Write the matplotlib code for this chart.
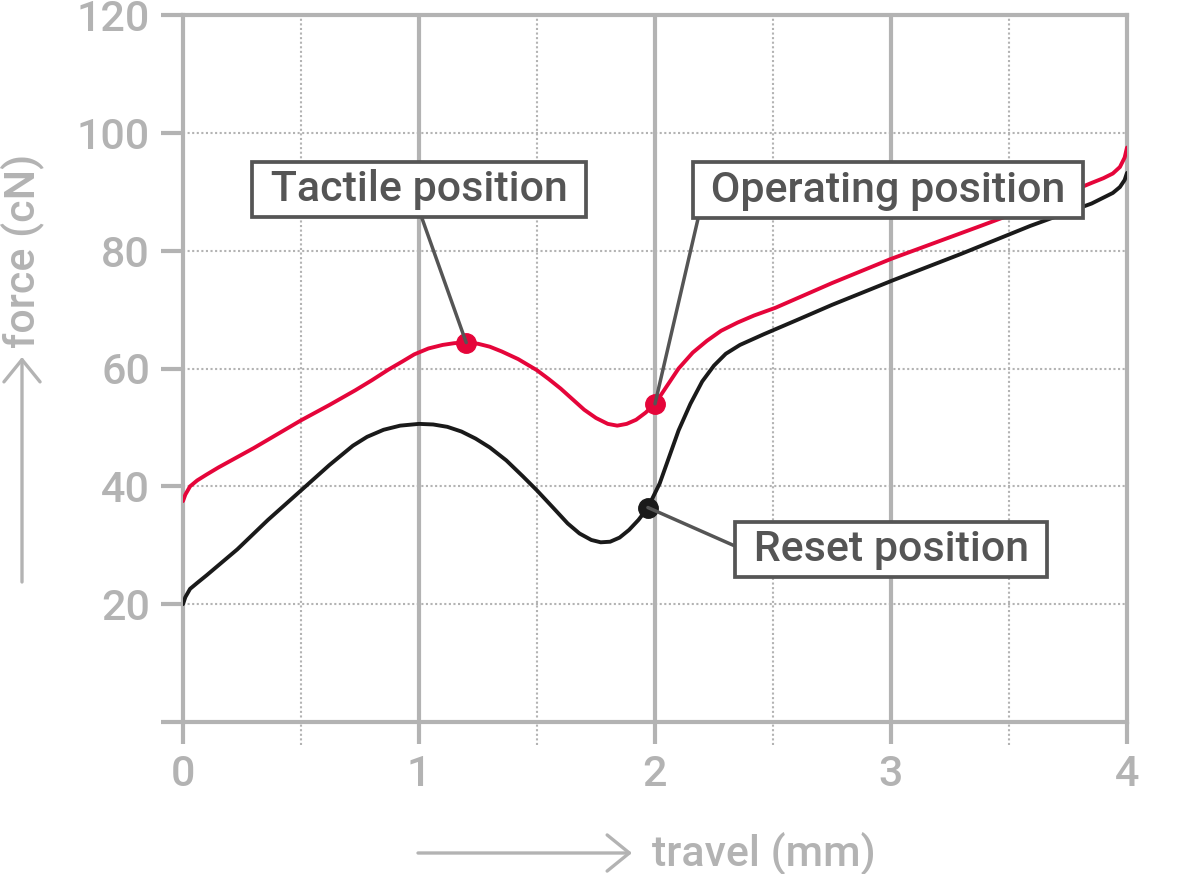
import matplotlib
matplotlib.use('Agg')
import matplotlib.pyplot as plt

# ---- data ----
travel_red = [0.0, 0.01, 0.03, 0.06, 0.1, 0.15, 0.3, 0.5, 0.62, 0.73, 0.8, 0.87, 0.93, 0.98,
              1.04, 1.1, 1.15, 1.2, 1.25, 1.3, 1.35, 1.42, 1.5, 1.55, 1.6, 1.65, 1.7, 1.75,
              1.8, 1.84, 1.88, 1.92, 1.96, 2.0, 2.05, 2.1, 2.16, 2.22, 2.28, 2.35, 2.42,
              2.51, 2.75, 3.0, 3.38, 3.7, 3.85, 3.9, 3.94, 3.97, 3.99, 4.0]
force_red = [37.5, 38.6, 40.0, 41.0, 42.0, 43.2, 46.5, 51.2, 53.8, 56.3, 58.0, 59.8, 61.2, 62.4,
             63.4, 64.0, 64.3, 64.4, 64.2, 63.7, 62.9, 61.6, 59.7, 58.2, 56.6, 54.8, 53.0, 51.6,
             50.6, 50.3, 50.6, 51.3, 52.5, 54.0, 57.0, 60.0, 62.7, 64.7, 66.4, 67.8, 69.0,
             70.3, 74.5, 78.6, 84.2, 89.0, 91.5, 92.3, 93.1, 94.2, 95.8, 97.5]

travel_black = [0.0, 0.01, 0.03, 0.06, 0.1, 0.23, 0.36, 0.5, 0.62, 0.72, 0.78, 0.85, 0.92, 1.0,
                1.06, 1.12, 1.18, 1.24, 1.3, 1.37, 1.44, 1.5, 1.57, 1.63, 1.68, 1.73, 1.77,
                1.81, 1.85, 1.89, 1.93, 1.97, 2.02, 2.06, 2.1, 2.15, 2.2, 2.25, 2.3, 2.36,
                2.46, 2.6, 2.75, 3.01, 3.3, 3.59, 3.85, 3.9, 3.94, 3.97, 3.99, 4.0]
force_black = [20.0, 21.2, 22.6, 23.6, 24.9, 29.3, 34.3, 39.3, 43.6, 46.9, 48.4, 49.6, 50.3,
               50.6, 50.5, 50.1, 49.3, 48.1, 46.6, 44.4, 41.7, 39.3, 36.3, 33.7, 32.0, 30.9,
               30.5, 30.6, 31.3, 32.6, 34.3, 36.4, 40.5, 45.0, 49.5, 54.0, 57.8, 60.5, 62.5,
               64.0, 65.8, 68.2, 70.8, 75.0, 79.5, 84.2, 88.0, 89.0, 89.8, 90.8, 92.0, 93.2]

x_ticks = [0, 1, 2, 3, 4]
x_tick_labels = ['0', '1', '2', '3', '4']
x_minor = [0.5, 1.5, 2.5, 3.5]
y_ticks = [0, 20, 40, 60, 80, 100, 120]
y_tick_labels = ['', '20', '40', '60', '80', '100', '120']

labels = ['Tactile position', 'Operating position', 'Reset position']
points_x = [1.2, 2.0, 1.97]
points_y = [64.4, 54.0, 36.4]
box_x = [1.0, 2.987, 3.0]
box_y = [90.4, 90.25, 29.3]

GRAY = '#b3b3b3'
DARK = '#555555'
RED = '#e5053a'
BLACK = '#1a1a1a'
FS = 31
FW = 'medium'

plt.rcParams['font.family'] = ['Roboto', 'DejaVu Sans']
plt.rcParams['font.weight'] = FW

W, H = 1181, 874
fig = plt.figure(figsize=(W / 100, H / 100), dpi=100)
ax = fig.add_axes([183 / W, 1 - 722 / H, 944 / W, 707 / H])
ax.set_xlim(0, 4)
ax.set_ylim(0, 120)

for s in ax.spines.values():
    s.set_color(GRAY)
    s.set_linewidth(3)
    s.set_zorder(1.5)

ax.set_xticks(x_ticks)
ax.set_xticklabels(x_tick_labels, fontweight=FW)
ax.set_yticks(y_ticks)
ax.set_yticklabels(y_tick_labels, fontweight=FW)
ax.tick_params(length=15.8, width=3, color=GRAY, labelcolor=GRAY, labelsize=FS)
ax.tick_params(axis='x', pad=7)
ax.tick_params(axis='y', pad=8)

# grid
for x in x_ticks[1:-1]:
    ax.axvline(x, color=GRAY, lw=3, zorder=1)
for x in x_minor:
    ax.axvline(x, ymin=-0.033, ymax=1, color=GRAY, lw=1.5, ls=(0, (1, 1.2)),
               clip_on=False, zorder=1)
for y in y_ticks[1:-1]:
    ax.axhline(y, color=GRAY, lw=1.5, ls=(0, (1, 1.2)), zorder=1)

# curves
ax.plot(travel_red, force_red, color=RED, lw=2.8, zorder=3, solid_capstyle='round',
        solid_joinstyle='round')
ax.plot(travel_black, force_black, color=BLACK, lw=2.8, zorder=3, solid_capstyle='round',
        solid_joinstyle='round')

# markers
marker_colors = [RED, RED, BLACK]
for px, py, c in zip(points_x, points_y, marker_colors):
    ax.plot([px], [py], 'o', ms=14, color=c, zorder=4)

# annotations
relposes = [(0.5, 0.0), (0.0, 0.0), (0.0, 0.5)]
for lab, px, py, bx, by, rp in zip(labels, points_x, points_y, box_x, box_y, relposes):
    ax.annotate(' ' + lab + ' ', xy=(px, py), xytext=(bx, by), ha='center', va='center',
                fontsize=FS, fontweight=FW, color=DARK, zorder=5,
                bbox=dict(boxstyle='square,pad=0.17', fc='white', ec=DARK, lw=2.7),
                arrowprops=dict(arrowstyle='-', color=DARK, lw=2.5, shrinkA=0, shrinkB=0,
                                relpos=rp))

# axis labels with arrows
ax.annotate('', xy=(632 / W, 1 - 853 / H), xytext=(418 / W, 1 - 853 / H),
            xycoords='figure fraction', textcoords='figure fraction',
            arrowprops=dict(arrowstyle='->,head_length=0.8,head_width=0.65', lw=2.4,
                            color=GRAY, shrinkA=0, shrinkB=0, mutation_scale=20))
fig.text(652 / W, 1 - 853 / H, 'travel (mm)', ha='left', va='center', fontsize=FS,
         fontweight=FW, color=GRAY)

ax.annotate('', xy=(22 / W, 1 - 357 / H), xytext=(22 / W, 1 - 582 / H),
            xycoords='figure fraction', textcoords='figure fraction',
            arrowprops=dict(arrowstyle='->,head_length=0.8,head_width=0.65', lw=2.4,
                            color=GRAY, shrinkA=0, shrinkB=0, mutation_scale=20))
fig.text(22 / W, 1 - 348 / H, 'force (cN)', ha='center', va='bottom', rotation=90,
         fontsize=FS, fontweight=FW, color=GRAY)

fig.savefig('out.png', dpi=100)
